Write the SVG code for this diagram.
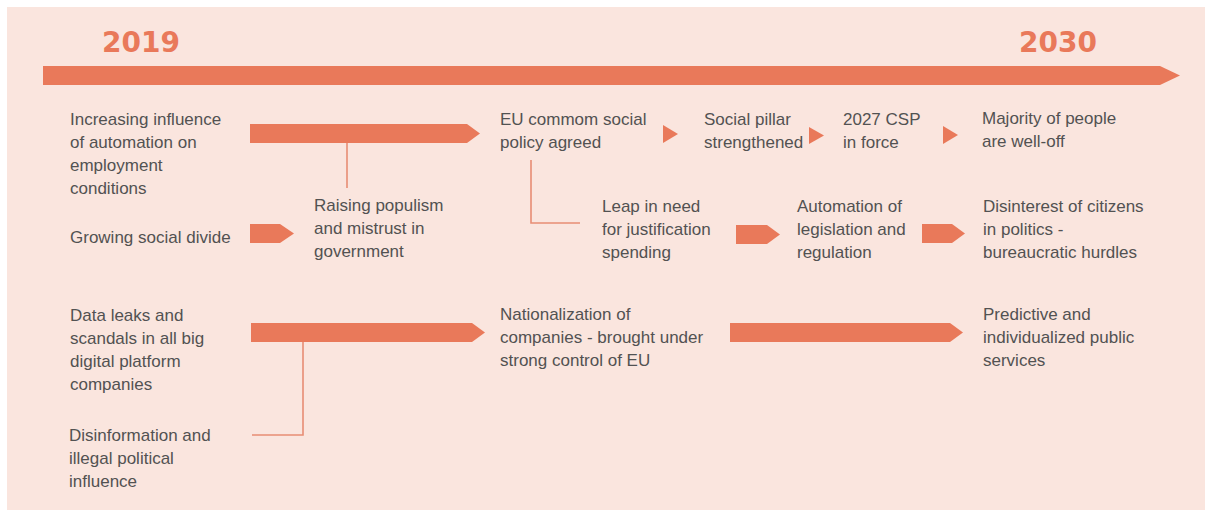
<svg xmlns="http://www.w3.org/2000/svg" width="1205" height="510" viewBox="0 0 1205 510">
<style>
.bg{fill:#fae5de}
.bar{fill:#e9795a}
.conn{fill:none;stroke:#e88d74;stroke-width:1.6}
.yr{font-family:"DejaVu Sans",sans-serif;font-weight:bold;font-size:28px;fill:#e9795a}
.t{font-family:"Liberation Sans",Arial,sans-serif;font-size:17px;fill:#525252}
</style>
<rect x="0" y="0" width="1205" height="510" fill="#ffffff"/>
<rect class="bg" x="7" y="7" width="1198" height="503"/>
<g id="timeline">
<polygon class="bar" points="43,66 1160,66 1180,75.5 1160,85 43,85"/>
<text class="yr" x="102" y="52">2019</text>
<text class="yr" x="1019" y="52">2030</text>
</g>
<g id="connectors">
<polygon class="bar" points="250,124 467,124 480,133.5 467,143 250,143"/>
<polygon class="bar" points="250,224 280,224 294,233.5 280,243 250,243"/>
<polygon class="bar" points="663,125 678,134 663,143"/>
<polygon class="bar" points="809,127 824,135.5 809,144"/>
<polygon class="bar" points="943,126 958,135 943,144"/>
<polygon class="bar" points="736,225 767,225 780,234.5 767,244 736,244"/>
<polygon class="bar" points="922,224 952,224 965,233.5 952,243 922,243"/>
<polygon class="bar" points="251,323 472,323 485,332.5 472,342 251,342"/>
<polygon class="bar" points="730,323 950,323 963,332.5 950,342 730,342"/>
<path class="conn" d="M347,143 V188"/>
<path class="conn" d="M531,160 V223 H580"/>
<path class="conn" d="M303,342 V435 H252"/>
</g>
<g id="n-automation"><text class="t" x="70" y="125">Increasing influence</text><text class="t" x="70" y="148">of automation on</text><text class="t" x="70" y="171">employment</text><text class="t" x="70" y="194">conditions</text></g>
<g id="n-divide"><text class="t" x="70" y="243">Growing social divide</text></g>
<g id="n-populism"><text class="t" x="314" y="211">Raising populism</text><text class="t" x="314" y="234">and mistrust in</text><text class="t" x="314" y="257">government</text></g>
<g id="n-eupolicy"><text class="t" x="500" y="125">EU commom social</text><text class="t" x="500" y="148">policy agreed</text></g>
<g id="n-pillar"><text class="t" x="704" y="125">Social pillar</text><text class="t" x="704" y="148">strengthened</text></g>
<g id="n-csp"><text class="t" x="843" y="125">2027 CSP</text><text class="t" x="843" y="148">in force</text></g>
<g id="n-welloff"><text class="t" x="982" y="124">Majority of people</text><text class="t" x="982" y="147">are well-off</text></g>
<g id="n-leap"><text class="t" x="602" y="212">Leap in need</text><text class="t" x="602" y="235">for justification</text><text class="t" x="602" y="258">spending</text></g>
<g id="n-legislation"><text class="t" x="797" y="212">Automation of</text><text class="t" x="797" y="235">legislation and</text><text class="t" x="797" y="258">regulation</text></g>
<g id="n-disinterest"><text class="t" x="983" y="212">Disinterest of citizens</text><text class="t" x="983" y="235">in politics -</text><text class="t" x="983" y="258">bureaucratic hurdles</text></g>
<g id="n-dataleaks"><text class="t" x="70" y="321">Data leaks and</text><text class="t" x="70" y="344">scandals in all big</text><text class="t" x="70" y="367">digital platform</text><text class="t" x="70" y="390">companies</text></g>
<g id="n-disinfo"><text class="t" x="69" y="441">Disinformation and</text><text class="t" x="69" y="464">illegal political</text><text class="t" x="69" y="487">influence</text></g>
<g id="n-national"><text class="t" x="500" y="320">Nationalization of</text><text class="t" x="500" y="343">companies - brought under</text><text class="t" x="500" y="366">strong control of EU</text></g>
<g id="n-predictive"><text class="t" x="983" y="320">Predictive and</text><text class="t" x="983" y="343">individualized public</text><text class="t" x="983" y="366">services</text></g>
</svg>
